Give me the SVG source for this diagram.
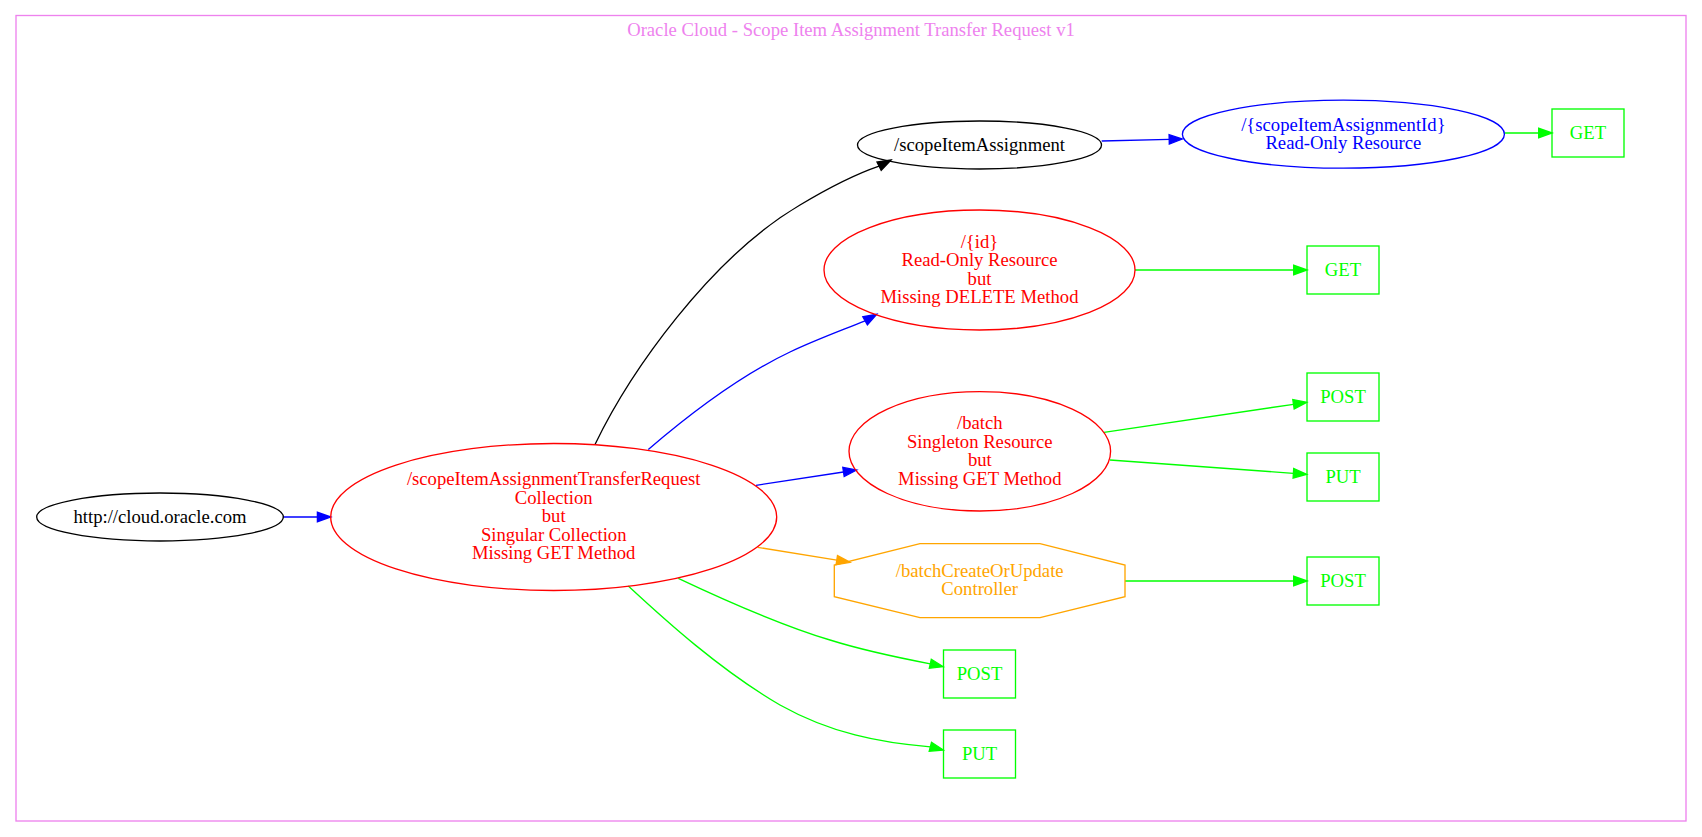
<svg xmlns="http://www.w3.org/2000/svg" width="1702" height="837" viewBox="0 0 1702 837">
<style>
text { font-family: "Liberation Serif", "Times New Roman", serif; font-size: 18.67px; text-anchor: middle; }
.n { fill: none; stroke-width: 1.33; }
.e { fill: none; stroke-width: 1.33; }
.blk { stroke: #000000; } .blkf { fill: #000000; }
.red { stroke: #ff0000; } .redf { fill: #ff0000; }
.blu { stroke: #0000ff; } .bluf { fill: #0000ff; }
.grn { stroke: #00ff00; } .grnf { fill: #00ff00; }
.org { stroke: #ffa500; } .orgf { fill: #ffa500; }
.vio { stroke: #ee82ee; } .viof { fill: #ee82ee; }
</style>
<rect width="1702" height="837" fill="#ffffff"/>
<g id="cluster">
<rect class="n vio" x="16" y="15.5" width="1670" height="805.5"/>
<text class="viof" x="851" y="36">Oracle Cloud - Scope Item Assignment Transfer Request v1</text>
</g>
<g id="edges">
<path class="e blu" d="M283.3,517 L317.4,517"/>
<polygon class="bluf blu" stroke-width="1.33" points="330.7,517 317.4,512.3 317.4,521.7"/>
<path class="e blk" d="M595,444.5 C630,372 710,258 800,205 C825,190 850,176 879.1,166.1"/>
<polygon class="blkf blk" stroke-width="1.33" points="891,160 881.2,170.3 877,162"/>
<path class="e blu" d="M648.3,449.5 C685,418 735,378 790,352 C815,340 840,331 865.1,320.8"/>
<polygon class="bluf blu" stroke-width="1.33" points="876.7,314.3 867.4,324.9 862.8,316.8"/>
<path class="e blu" d="M756,485.3 L843.5,472"/>
<polygon class="bluf blu" stroke-width="1.33" points="856.7,470 844.2,476.6 842.8,467.4"/>
<path class="e org" d="M757.7,547.3 L836.8,560.2"/>
<polygon class="orgf org" stroke-width="1.33" points="850,562.3 836.1,564.8 837.5,555.6"/>
<path class="e grn" d="M678.3,578.3 C720,598 780,625 830,640 C865,651 900,658 930.3,663.8"/>
<polygon class="grnf grn" stroke-width="1.33" points="943.3,666.7 929.3,668.3 931.3,659.2"/>
<path class="e grn" d="M628.3,586 C665,620 720,670 780,705 C830,733 880,743 930.4,746.8"/>
<polygon class="grnf grn" stroke-width="1.33" points="943.3,750 929.2,751.3 931.5,742.2"/>
<path class="e blu" d="M1101.7,141 L1169.2,139.3"/>
<polygon class="bluf blu" stroke-width="1.33" points="1182.5,139 1169.3,144 1169.1,134.7"/>
<path class="e grn" d="M1504.3,133 L1538.7,133"/>
<polygon class="grnf grn" stroke-width="1.33" points="1552,133 1538.7,128.3 1538.7,137.7"/>
<path class="e grn" d="M1135,270 L1293.7,270"/>
<polygon class="grnf grn" stroke-width="1.33" points="1307,270 1293.7,265.3 1293.7,274.7"/>
<path class="e grn" d="M1104,432.3 L1293.5,404.3"/>
<polygon class="grnf grn" stroke-width="1.33" points="1306.7,402.3 1294.2,408.9 1292.8,399.6"/>
<path class="e grn" d="M1110,460 L1293.4,473.3"/>
<polygon class="grnf grn" stroke-width="1.33" points="1306.7,474.3 1293.1,478 1293.7,468.6"/>
<path class="e grn" d="M1125,581 L1293.7,581"/>
<polygon class="grnf grn" stroke-width="1.33" points="1307,581 1293.7,576.3 1293.7,585.7"/>
</g>
<g id="node_root">
<ellipse class="n blk" cx="160" cy="517" rx="123.3" ry="24"/>
<text class="blkf" x="160" y="522.6">http://cloud.oracle.com</text>
</g>
<g id="node_collection">
<ellipse class="n red" cx="553.7" cy="517" rx="223" ry="73.5"/>
<text class="redf" x="553.7" y="485.3">/scopeItemAssignmentTransferRequest</text>
<text class="redf" x="553.7" y="503.8">Collection</text>
<text class="redf" x="553.7" y="522.3">but</text>
<text class="redf" x="553.7" y="540.8">Singular Collection</text>
<text class="redf" x="553.7" y="559.3">Missing GET Method</text>
</g>
<g id="node_scopeItemAssignment">
<ellipse class="n blk" cx="979.5" cy="145" rx="122" ry="24"/>
<text class="blkf" x="979.5" y="150.6">/scopeItemAssignment</text>
</g>
<g id="node_scopeItemAssignmentId">
<ellipse class="n blu" cx="1343.4" cy="134.2" rx="161" ry="34"/>
<text class="bluf" x="1343.4" y="130.5">/{scopeItemAssignmentId}</text>
<text class="bluf" x="1343.4" y="149">Read-Only Resource</text>
</g>
<g id="node_get1">
<rect class="n grn" x="1552" y="109" width="72" height="48"/>
<text class="grnf" x="1588" y="138.6">GET</text>
</g>
<g id="node_id">
<ellipse class="n red" cx="979.5" cy="270" rx="155.5" ry="60"/>
<text class="redf" x="979.5" y="247.9">/{id}</text>
<text class="redf" x="979.5" y="266.4">Read-Only Resource</text>
<text class="redf" x="979.5" y="284.9">but</text>
<text class="redf" x="979.5" y="303.4">Missing DELETE Method</text>
</g>
<g id="node_get2">
<rect class="n grn" x="1307" y="246" width="72" height="48"/>
<text class="grnf" x="1343" y="275.6">GET</text>
</g>
<g id="node_batch">
<ellipse class="n red" cx="979.8" cy="451.3" rx="130.8" ry="59.7"/>
<text class="redf" x="979.8" y="429.2">/batch</text>
<text class="redf" x="979.8" y="447.7">Singleton Resource</text>
<text class="redf" x="979.8" y="466.2">but</text>
<text class="redf" x="979.8" y="484.7">Missing GET Method</text>
</g>
<g id="node_post1">
<rect class="n grn" x="1307" y="373" width="72" height="48"/>
<text class="grnf" x="1343" y="402.6">POST</text>
</g>
<g id="node_put1">
<rect class="n grn" x="1307" y="453" width="72" height="48"/>
<text class="grnf" x="1343" y="482.6">PUT</text>
</g>
<g id="node_batchCreateOrUpdate">
<polygon class="n org" points="920,543.7 1040,543.7 1125,565 1125,596.7 1040,617.7 920,617.7 834.3,596.7 834.3,565"/>
<text class="orgf" x="979.7" y="576.9">/batchCreateOrUpdate</text>
<text class="orgf" x="979.7" y="595.4">Controller</text>
</g>
<g id="node_post2">
<rect class="n grn" x="1307" y="557" width="72" height="48"/>
<text class="grnf" x="1343" y="586.6">POST</text>
</g>
<g id="node_post3">
<rect class="n grn" x="943.5" y="650" width="72" height="48"/>
<text class="grnf" x="979.5" y="679.6">POST</text>
</g>
<g id="node_put2">
<rect class="n grn" x="943.5" y="730" width="72" height="48"/>
<text class="grnf" x="979.5" y="759.6">PUT</text>
</g>
</svg>
